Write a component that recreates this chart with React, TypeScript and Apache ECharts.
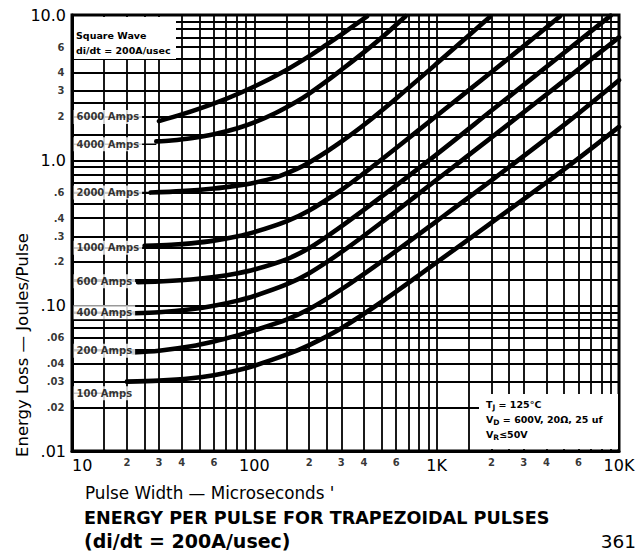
import React, { useEffect, useRef } from "react";
import * as echarts from "echarts";

// ---- data (pulse width in microseconds, energy in joules/pulse) ----
const CURRENT_LABELS = ["6000 Amps", "4000 Amps", "2000 Amps", "1000 Amps", "600 Amps", "400 Amps", "200 Amps", "100 Amps"];

const PULSE_6000 = [30, 40, 50, 70, 100, 150, 200, 250, 300, 415];
const ENERGY_6000 = [1.86, 2.07, 2.27, 2.65, 3.22, 4.19, 5.21, 6.28, 7.34, 9.8];

const PULSE_4000 = [29, 35, 45, 60, 80, 100, 130, 170, 200, 250, 300, 400, 500, 675];
const ENERGY_4000 = [1.35, 1.371, 1.42, 1.512, 1.658, 1.825, 2.108, 2.53, 2.88, 3.52, 4.19, 5.55, 6.99, 9.8];

const PULSE_2000 = [27, 40, 60, 80, 100, 130, 170, 200, 250, 300, 400, 600, 1000, 1500, 1950];
const ENERGY_2000 = [0.6, 0.614, 0.64, 0.67, 0.702, 0.76, 0.869, 0.967, 1.151, 1.344, 1.757, 2.667, 4.63, 7.23, 9.65];

const PULSE_1000 = [25, 35, 45, 60, 80, 100, 150, 200, 300, 400, 600, 1000, 2000, 3000, 4750];
const ENERGY_1000 = [0.258, 0.2624, 0.2684, 0.2802, 0.2994, 0.3208, 0.3804, 0.452, 0.625, 0.817, 1.216, 2.027, 4.054, 6.105, 9.8];

const PULSE_600 = [23, 30, 45, 60, 80, 100, 150, 200, 300, 500, 1000, 2000, 5000, 9000];
const ENERGY_600 = [0.145, 0.1466, 0.1514, 0.1572, 0.1665, 0.1772, 0.2084, 0.2491, 0.3517, 0.5654, 1.1, 2.2, 5.5, 9.9];

const PULSE_400 = [22, 30, 45, 60, 80, 100, 150, 200, 300, 500, 1000, 2000, 5000, 10000];
const ENERGY_400 = [0.0886, 0.09, 0.0945, 0.0998, 0.1079, 0.1166, 0.14, 0.1673, 0.2333, 0.375, 0.7347, 1.439, 3.534, 7.02];

const PULSE_200 = [21.6, 30, 45, 60, 80, 100, 150, 200, 300, 500, 1000, 2000, 5000, 10000];
const ENERGY_200 = [0.0477, 0.049, 0.0525, 0.0566, 0.0622, 0.0676, 0.0801, 0.0947, 0.1294, 0.2018, 0.3818, 0.7275, 1.753, 3.56];

const PULSE_100 = [20, 30, 45, 60, 80, 100, 150, 200, 300, 500, 1000, 2000, 5000, 10000];
const ENERGY_100 = [0.03, 0.0305, 0.03163, 0.03322, 0.0358, 0.03862, 0.04598, 0.05355, 0.07, 0.1064, 0.1985, 0.373, 0.8666, 1.698];

const CURVE_PULSES = [PULSE_6000, PULSE_4000, PULSE_2000, PULSE_1000, PULSE_600, PULSE_400, PULSE_200, PULSE_100];
const CURVE_ENERGIES = [ENERGY_6000, ENERGY_4000, ENERGY_2000, ENERGY_1000, ENERGY_600, ENERGY_400, ENERGY_200, ENERGY_100];

// y-position of each curve's text label (at the left axis)
const LABEL_ENERGY = [1.99, 1.29, 0.6, 0.25, 0.147, 0.09, 0.049, 0.025];

// grid lines of the log paper
const X_GRID = [15, 20, 25, 30, 40, 50, 60, 70, 80, 90, 100, 150, 200, 250, 300, 400, 500, 600, 700, 800, 900, 1000, 1500, 2000, 2500, 3000, 4000, 5000, 6000, 7000, 8000, 9000];
const Y_GRID = [0.015, 0.02, 0.025, 0.03, 0.04, 0.05, 0.06, 0.07, 0.08, 0.09, 0.1, 0.15, 0.2, 0.25, 0.3, 0.4, 0.5, 0.6, 0.7, 0.8, 0.9, 1, 1.5, 2, 2.5, 3, 4, 5, 6, 7, 8, 9];

// tick labels
const X_MAJOR_TEXT = ["10", "100", "1K", "10K"];
const Y_MAJOR_TEXT = [".01", ".10", "1.0", "10.0"];
const X_MINOR_VALUES = [20, 30, 40, 60, 200, 300, 400, 600, 2000, 3000, 4000, 6000];
const X_MINOR_TEXT = ["2", "3", "4", "6", "2", "3", "4", "6", "2", "3", "4", "6"];
const Y_MINOR_VALUES = [6, 4, 3, 2, 0.6, 0.4, 0.3, 0.2, 0.06, 0.04, 0.03, 0.02];
const Y_MINOR_TEXT = ["6", "4", "3", "2", ".6", ".4", ".3", ".2", ".06", ".04", ".03", ".02"];

const FONT = "DejaVu Sans";

export default function App() {
  const ref = useRef<HTMLDivElement>(null);

  useEffect(() => {
    if (!ref.current) return;
    const chart = echarts.init(ref.current, undefined, { renderer: "svg" });

    const curveSeries = CURVE_PULSES.map((px, i) => ({
      type: "line",
      name: CURRENT_LABELS[i],
      data: px.map((x, j) => [x, CURVE_ENERGIES[i][j]]),
      showSymbol: false,
      symbol: "none",
      smooth: 0.3,
      lineStyle: { color: "#000", width: 4.6, cap: "round", join: "round" },
      z: 4,
      silent: true,
    }));

    const leaderSeries = CURVE_PULSES.map((px, i) => ({
      type: "line",
      data: [
        [10, LABEL_ENERGY[i]],
        [px[0], LABEL_ENERGY[i]],
      ],
      symbol: "none",
      lineStyle: { color: "#000", width: 1.5 },
      z: 3,
      silent: true,
    }));

    const subStyle = {
      a: { fontFamily: FONT, fontWeight: "bold", fontSize: 9.5, lineHeight: 14, verticalAlign: "middle" },
      s: { fontFamily: FONT, fontWeight: "bold", fontSize: 7.5, lineHeight: 14, verticalAlign: "bottom" },
    };

    const option: any = {
      animation: false,
      backgroundColor: "#fff",
      grid: {
        left: 72,
        right: 21,
        top: 15,
        bottom: 101,
        show: true,
        borderColor: "#000",
        borderWidth: 3,
        backgroundColor: "transparent",
      },
      xAxis: {
        type: "log",
        logBase: 10,
        min: 10,
        max: 10000,
        axisLine: { show: true, lineStyle: { color: "#000", width: 3 } },
        axisTick: { show: false },
        splitLine: { show: false },
        axisLabel: {
          color: "#000",
          fontFamily: FONT,
          fontSize: 16,
          margin: 6,
          alignMinLabel: "left",
          formatter: (v: number) => X_MAJOR_TEXT[Math.round(Math.log10(v)) - 1] ?? "",
        },
      },
      yAxis: {
        type: "log",
        logBase: 10,
        min: 0.01,
        max: 10,
        axisLine: { show: true, lineStyle: { color: "#000", width: 3 } },
        axisTick: { show: false },
        splitLine: { show: false },
        axisLabel: {
          color: "#000",
          fontFamily: FONT,
          fontSize: 16,
          margin: 6,
          formatter: (v: number) => Y_MAJOR_TEXT[Math.round(Math.log10(v)) + 2] ?? "",
        },
      },
      series: [
        {
          type: "line",
          data: [[10, 0.01]],
          symbol: "none",
          lineStyle: { width: 0 },
          silent: true,
          z: 1,
          markLine: {
            silent: true,
            symbol: ["none", "none"],
            label: { show: false },
            emphasis: { disabled: true },
            lineStyle: { color: "#000", width: 1.8, type: "solid" },
            data: [
              ...X_GRID.map((v) => ({ xAxis: v })),
              ...Y_GRID.map((v) => ({ yAxis: v })),
            ],
          },
        },
        ...leaderSeries,
        ...curveSeries,
        {
          type: "scatter",
          clip: false,
          symbolSize: 1,
          itemStyle: { color: "transparent" },
          silent: true,
          z: 6,
          data: LABEL_ENERGY.map((y, i) => ({ value: [10, y], name: CURRENT_LABELS[i] })),
          label: {
            show: true,
            position: "right",
            distance: 1,
            formatter: "{b}",
            color: "#000",
            fontFamily: FONT,
            fontWeight: "bold",
            fontSize: 10,
            backgroundColor: "#fff",
            padding: [2, 3, 2, 3],
          },
        },
        {
          type: "scatter",
          clip: false,
          symbolSize: 1,
          itemStyle: { color: "transparent" },
          silent: true,
          data: X_MINOR_VALUES.map((x, i) => ({ value: [x, 0.01], name: X_MINOR_TEXT[i] })),
          label: {
            show: true,
            position: "bottom",
            distance: 6,
            formatter: "{b}",
            color: "#000",
            fontFamily: FONT,
            fontWeight: "bold",
            fontSize: 10,
          },
        },
        {
          type: "scatter",
          clip: false,
          symbolSize: 1,
          itemStyle: { color: "transparent" },
          silent: true,
          data: Y_MINOR_VALUES.map((y, i) => ({ value: [10, y], name: Y_MINOR_TEXT[i] })),
          label: {
            show: true,
            position: "left",
            distance: 7,
            formatter: "{b}",
            color: "#000",
            fontFamily: FONT,
            fontWeight: "bold",
            fontSize: 10,
          },
        },
      ],
      graphic: [
        { type: "rect", z: 100, shape: { x: 74, y: 17, width: 102, height: 42 }, style: { fill: "#fff" } },
        {
          type: "text",
          z: 101,
          x: 76,
          y: 35,
          style: { text: "Square Wave", fill: "#000", fontFamily: FONT, fontWeight: "bold", fontSize: 9.5, verticalAlign: "middle" },
        },
        {
          type: "text",
          z: 101,
          x: 76,
          y: 50,
          style: { text: "di/dt = 200A/usec", fill: "#000", fontFamily: FONT, fontWeight: "bold", fontSize: 9.5, verticalAlign: "middle" },
        },
        { type: "rect", z: 100, shape: { x: 479, y: 394, width: 139, height: 55 }, style: { fill: "#fff" } },
        {
          type: "text",
          z: 101,
          x: 486,
          y: 404,
          style: { text: "{a|T}{s|J}{a| = 125°C}", fill: "#000", verticalAlign: "middle", rich: subStyle },
        },
        {
          type: "text",
          z: 101,
          x: 486,
          y: 419,
          style: { text: "{a|V}{s|D}{a| = 600V, 20Ω, 25 uf}", fill: "#000", verticalAlign: "middle", rich: subStyle },
        },
        {
          type: "text",
          z: 101,
          x: 486,
          y: 434,
          style: { text: "{a|V}{s|R}{a|≤50V}", fill: "#000", verticalAlign: "middle", rich: subStyle },
        },
        {
          type: "text",
          z: 101,
          x: 22,
          y: 345,
          rotation: Math.PI / 2,
          style: { text: "Energy Loss — Joules/Pulse", fill: "#000", fontFamily: FONT, fontSize: 16.5, align: "center", verticalAlign: "middle" },
        },
        {
          type: "text",
          z: 101,
          x: 85,
          y: 493,
          style: { text: "Pulse Width — Microseconds '", fill: "#000", fontFamily: FONT, fontSize: 16.8, verticalAlign: "middle" },
        },
        {
          type: "text",
          z: 101,
          x: 84,
          y: 518,
          style: { text: "ENERGY PER PULSE FOR TRAPEZOIDAL PULSES", fill: "#000", fontFamily: FONT, fontWeight: "bold", fontSize: 17.6, verticalAlign: "middle" },
        },
        {
          type: "text",
          z: 101,
          x: 84,
          y: 541,
          style: { text: "(di/dt = 200A/usec)", fill: "#000", fontFamily: FONT, fontWeight: "bold", fontSize: 19, verticalAlign: "middle" },
        },
        {
          type: "text",
          z: 101,
          x: 636,
          y: 541,
          style: { text: "361", fill: "#000", fontFamily: FONT, fontSize: 18.5, align: "right", verticalAlign: "middle" },
        },
      ],
    };

    chart.setOption(option);
    return () => chart.dispose();
  }, []);

  return <div ref={ref} style={{ position: "absolute", left: 0, top: 0, width: 640, height: 552 }} />;
}
